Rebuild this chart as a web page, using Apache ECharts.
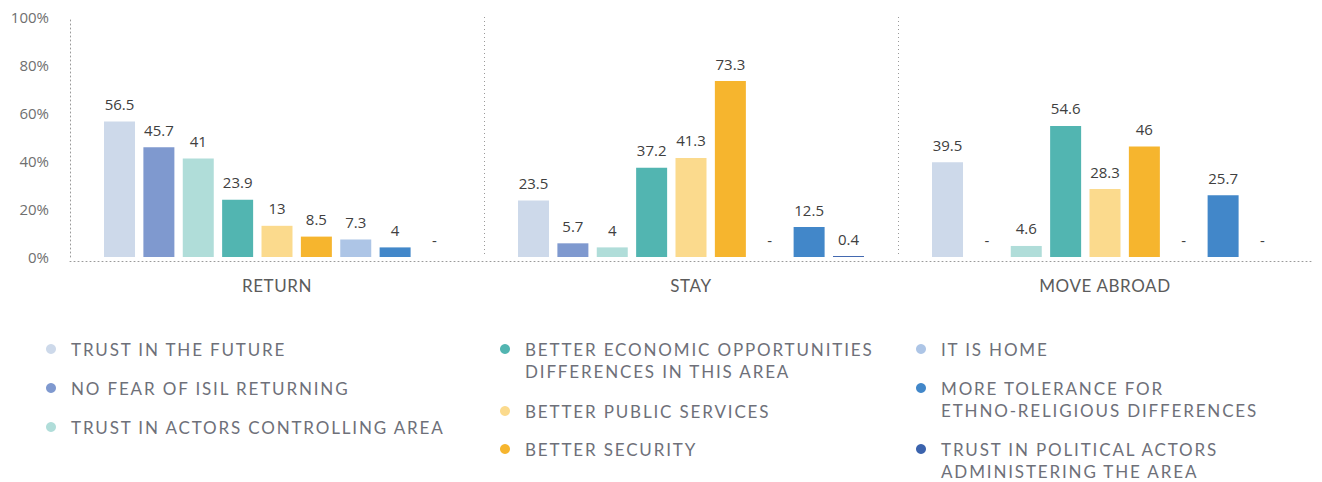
<!DOCTYPE html>
<html>
<head>
<meta charset="utf-8">
<style>
  html, body { margin: 0; padding: 0; background: #ffffff; }
  #chart { width: 1322px; height: 482px; }
  /* spaced capitals for the legend and the category names */
  #chart text[style*="Lato"] { letter-spacing: 1.85px; }
  #chart text[style*="Lato, sans-serif"] { letter-spacing: 0.6px; }
</style>
<script src="https://cdn.jsdelivr.net/npm/echarts@6/dist/echarts.min.js"></script>
</head>
<body>
<div id="chart"></div>
<script>
// Intended choice: return, stay where they are, or move abroad
const categories = ['RETURN', 'STAY', 'MOVE ABROAD'];

// Reasons given (share of respondents, %); null = no answer recorded ("-")
const trustInFuture          = [56.5, 23.5, 39.5];
const noFearOfIsil           = [45.7, 5.7, null];
const trustActorsControlling = [41, 4, 4.6];
const economicOpportunities  = [23.9, 37.2, 54.6];
const publicServices         = [13, 41.3, 28.3];
const betterSecurity         = [8.5, 73.3, 46];
const itIsHome               = [7.3, null, null];
const moreTolerance          = [4, 12.5, 25.7];
const trustPoliticalActors   = [null, 0.4, null];

const reasonNames = [
  'TRUST IN THE FUTURE',
  'NO FEAR OF ISIL RETURNING',
  'TRUST IN ACTORS CONTROLLING AREA',
  'BETTER ECONOMIC OPPORTUNITIES\nDIFFERENCES IN THIS AREA',
  'BETTER PUBLIC SERVICES',
  'BETTER SECURITY',
  'IT IS HOME',
  'MORE TOLERANCE FOR\nETHNO-RELIGIOUS DIFFERENCES',
  'TRUST IN POLITICAL ACTORS\nADMINISTERING THE AREA'
];
const reasonValues = [
  trustInFuture, noFearOfIsil, trustActorsControlling,
  economicOpportunities, publicServices, betterSecurity,
  itIsHome, moreTolerance, trustPoliticalActors
];

// Y axis ticks: 0% .. 100% every 20
const yMin = 0, yMax = 100, yStep = 20;

const palette = [
  '#cdd9ea', '#7f99cf', '#b0ddd9',
  '#52b5b1', '#fbda8d', '#f6b52e',
  '#adc5e6', '#4287c9', '#3b63ad'
];

// legend entries: three columns, each entry placed by its dot centre
const legendSlots = [
  [51, 349], [51, 388], [51, 427],
  [505, 349], [505, 411], [505, 449],
  [921, 349], [921, 388], [921, 449]
];

const dotted = { color: '#9a9a9a', width: 1, type: [1, 3] };

const series = reasonNames.map((name, i) => ({
  name: name,
  type: 'bar',
  barWidth: 31,
  barGap: '27%',
  itemStyle: { color: palette[i] },
  label: {
    show: true,
    position: 'top',
    distance: 10,
    fontFamily: 'Open Sans',
    fontSize: 15,
    color: '#404040'
  },
  data: reasonValues[i].map(v => v === null
    ? { value: 0, label: { formatter: '-' } }
    : v)
}));

// two-line entries get a blank line on top so the dot sits beside the first line
const legends = reasonNames.map((name, i) => {
  const multi = name.indexOf('\n') >= 0;
  return {
    data: [name],
    left: legendSlots[i][0] - 5,
    top: legendSlots[i][1] - (multi ? 33 : 11),
    orient: 'vertical',
    padding: 0,
    itemWidth: 30,
    itemHeight: 10,
    icon: 'circle',
    selectedMode: false,
    formatter: n => (n.indexOf('\n') >= 0 ? '\n' + n : n),
    textStyle: {
      fontFamily: 'Lato',
      fontSize: 17,
      lineHeight: 22,
      color: '#6e7079'
    }
  };
});

const chart = echarts.init(document.getElementById('chart'), null, { renderer: 'svg' });
chart.setOption({
  backgroundColor: '#ffffff',
  animation: false,
  grid: { left: 70, right: 10, top: 17, height: 240, containLabel: false },
  legend: legends,
  xAxis: {
    type: 'category',
    data: categories,
    offset: 4,
    axisLine: { show: true, onZero: false, lineStyle: dotted },
    axisTick: { show: false },
    axisLabel: {
      margin: 16,
      fontFamily: 'Lato, sans-serif',
      fontSize: 17,
      color: '#5b5b5b'
    },
    splitLine: {
      show: true,
      showMinLine: false,
      showMaxLine: false,
      lineStyle: dotted
    }
  },
  yAxis: {
    type: 'value',
    min: yMin,
    max: yMax,
    interval: yStep,
    axisLine: { show: true, lineStyle: dotted },
    axisTick: { show: false },
    splitLine: { show: false },
    axisLabel: {
      formatter: '{value}%',
      margin: 21,
      fontFamily: 'Open Sans',
      fontSize: 15,
      color: '#6f6f6f'
    }
  },
  series: series
});
</script>
</body>
</html>
